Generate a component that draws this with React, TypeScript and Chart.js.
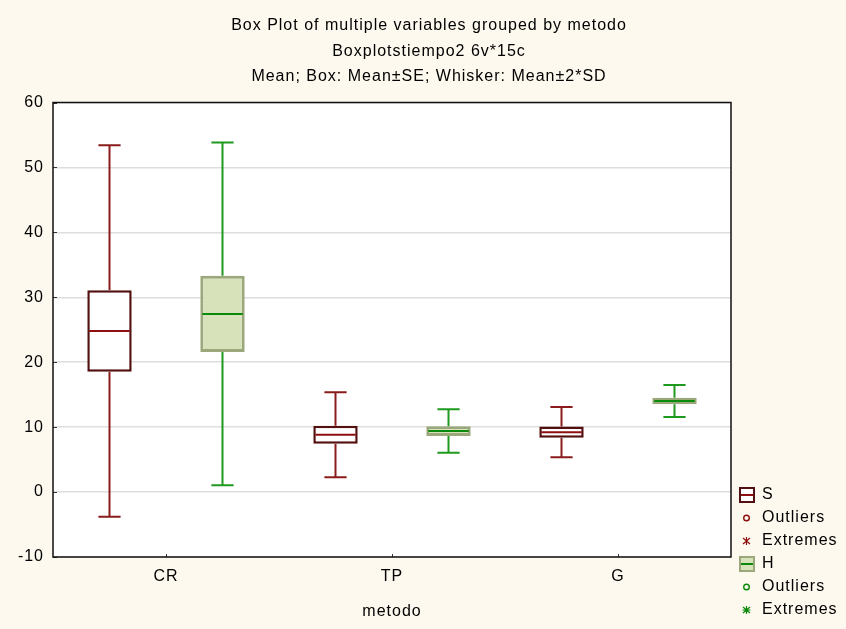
import React, { useEffect, useRef } from 'react';
import { Chart, registerables } from 'chart.js';

Chart.register(...registerables);

// Grouping variable and the two measured variables
const categories = ['CR', 'TP', 'G'];
const seriesNames = ['S', 'H'];

// Per-group statistics: mean, standard error, standard deviation
const meanS = [24.81, 8.82, 9.23];
const seS = [6.27, 1.39, 0.85];
const sdS = [14.3, 3.27, 1.94];

const meanH = [27.44, 9.4, 14.03];
const seH = [5.86, 0.75, 0.51];
const sdH = [13.2, 1.67, 1.23];

const yMin = -10;
const yMax = 60;
const yStep = 10;

const titleLines = [
  'Box Plot of multiple variables grouped by metodo',
  'Boxplotstiempo2 6v*15c',
  'Mean; Box: Mean±SE; Whisker: Mean±2*SD',
];
const xAxisTitle = 'metodo';
const legendLabels = ['S', 'Outliers', 'Extremes', 'H', 'Outliers', 'Extremes'];

const FONT = '"Liberation Sans", Arial, sans-serif';
const FONT_SIZE = 16;
const LETTER_SPACING = '1px';
const TEXT_COLOR = '#000';
const PAGE_BG = '#fdf9ee';

const styles = [
  { fill: '#ffffff', border: '#521010', borderWidth: 2.5, mean: '#8e0f0f', whisker: '#8b1c1c' },
  { fill: '#d7e2bb', border: '#9aa87c', borderWidth: 3, mean: '#0a8a0a', whisker: '#1f9a1f' },
];

const stats = [
  { mean: meanS, se: seS, sd: sdS },
  { mean: meanH, se: seH, sd: sdH },
];

const boxPlotExtras = {
  id: 'boxPlotExtras',
  beforeDraw(chart: any) {
    const { ctx, chartArea: a } = chart;
    ctx.letterSpacing = LETTER_SPACING;
    ctx.save();
    ctx.fillStyle = '#ffffff';
    ctx.fillRect(a.left, a.top, a.right - a.left, a.bottom - a.top);
    ctx.restore();
  },
  afterDatasetsDraw(chart: any) {
    const { ctx } = chart;
    const y = chart.scales.y;
    stats.forEach((st, di) => {
      const meta = chart.getDatasetMeta(di);
      const st2 = styles[di];
      meta.data.forEach((bar: any, i: number) => {
        const { x, width } = bar.getProps(['x', 'width'], true);
        const m = st.mean[i];
        const boxTop = y.getPixelForValue(m + st.se[i]);
        const boxBottom = y.getPixelForValue(m - st.se[i]);
        const wTop = y.getPixelForValue(m + 2 * st.sd[i]);
        const wBottom = y.getPixelForValue(m - 2 * st.sd[i]);
        const capHalf = width / 4;
        ctx.save();
        ctx.strokeStyle = st2.whisker;
        ctx.lineWidth = 2;
        ctx.beginPath();
        ctx.moveTo(x, boxTop);
        ctx.lineTo(x, wTop);
        ctx.moveTo(x - capHalf, wTop);
        ctx.lineTo(x + capHalf, wTop);
        ctx.moveTo(x, boxBottom);
        ctx.lineTo(x, wBottom);
        ctx.moveTo(x - capHalf, wBottom);
        ctx.lineTo(x + capHalf, wBottom);
        ctx.stroke();
        const my = y.getPixelForValue(m);
        ctx.strokeStyle = st2.mean;
        ctx.beginPath();
        ctx.moveTo(x - width / 2 + 2, my);
        ctx.lineTo(x + width / 2 - 2, my);
        ctx.stroke();
        ctx.restore();
      });
    });
  },
  afterDraw(chart: any) {
    const { ctx, chartArea: a } = chart;
    const y = chart.scales.y;
    const x = chart.scales.x;
    ctx.save();
    // inner tick marks
    ctx.strokeStyle = '#333';
    ctx.lineWidth = 1;
    ctx.beginPath();
    for (let v = yMin; v <= yMax; v += yStep) {
      const py = Math.round(y.getPixelForValue(v)) + 0.5;
      ctx.moveTo(a.left, py);
      ctx.lineTo(a.left + 4, py);
    }
    categories.forEach((_, i) => {
      const px = Math.round(x.getPixelForValue(i)) + 0.5;
      ctx.moveTo(px, a.bottom);
      ctx.lineTo(px, a.bottom - 3);
    });
    ctx.stroke();
    // plot frame
    ctx.strokeStyle = '#111';
    ctx.lineWidth = 1.5;
    ctx.strokeRect(a.left, a.top, a.right - a.left, a.bottom - a.top);

    // legend
    const lx = a.right + 8;
    const cx = lx + 7.5;
    const tx = lx + 23;
    const row0 = a.bottom - 62;
    const rowH = 23;
    ctx.font = `${FONT_SIZE}px ${FONT}`;
    ctx.textBaseline = 'middle';
    ctx.textAlign = 'left';
    legendLabels.forEach((label, k) => {
      const ry = row0 + k * rowH;
      const st = styles[k < 3 ? 0 : 1];
      const kind = k % 3;
      if (kind === 0) {
        ctx.fillStyle = st.fill;
        ctx.fillRect(lx, ry - 8, 16, 16);
        ctx.strokeStyle = st.border;
        ctx.lineWidth = 2;
        ctx.strokeRect(lx + 1, ry - 7, 14, 14);
        ctx.strokeStyle = st.mean;
        ctx.beginPath();
        ctx.moveTo(lx + 2, ry);
        ctx.lineTo(lx + 14, ry);
        ctx.stroke();
      } else if (kind === 1) {
        ctx.strokeStyle = st.mean;
        ctx.lineWidth = 1.4;
        ctx.beginPath();
        ctx.arc(cx, ry, 2.8, 0, Math.PI * 2);
        ctx.stroke();
      } else {
        ctx.strokeStyle = st.mean;
        ctx.lineWidth = 1.2;
        ctx.beginPath();
        ctx.moveTo(cx, ry - 4);
        ctx.lineTo(cx, ry + 4);
        ctx.moveTo(cx - 3.5, ry - 3);
        ctx.lineTo(cx + 3.5, ry + 3);
        ctx.moveTo(cx - 3.5, ry + 3);
        ctx.lineTo(cx + 3.5, ry - 3);
        if (k >= 3) {
          ctx.moveTo(cx - 4, ry);
          ctx.lineTo(cx + 4, ry);
        }
        ctx.stroke();
      }
      ctx.fillStyle = TEXT_COLOR;
      ctx.fillText(label, tx, ry);
    });
    ctx.restore();
  },
};

export default function App() {
  const canvasRef = useRef<HTMLCanvasElement | null>(null);

  useEffect(() => {
    const canvas = canvasRef.current;
    if (!canvas) return;
    const datasets = stats.map((st, di) => ({
      label: seriesNames[di],
      data: st.mean.map((m, i) => [m - st.se[i], m + st.se[i]]),
      backgroundColor: styles[di].fill,
      borderColor: styles[di].border,
      borderWidth: styles[di].borderWidth,
      borderSkipped: false,
      categoryPercentage: 1.0,
      barPercentage: 0.393,
    }));
    const font = { family: FONT, size: FONT_SIZE };
    const chart = new Chart(canvas, {
      type: 'bar',
      data: { labels: categories, datasets: datasets as any },
      plugins: [boxPlotExtras],
      options: {
        animation: false,
        responsive: false,
        layout: { padding: { left: 12, right: 0, top: 0, bottom: 0 } },
        plugins: {
          legend: { display: false },
          tooltip: { enabled: false },
          title: {
            display: true,
            text: titleLines,
            color: TEXT_COLOR,
            font: { ...font, weight: 'normal', lineHeight: 25.5 / FONT_SIZE },
            padding: { top: 13, bottom: 13 },
          },
        },
        scales: {
          x: {
            grid: { display: false, drawTicks: false },
            border: { display: false },
            ticks: { color: TEXT_COLOR, font, padding: 10 },
            title: {
              display: true,
              text: xAxisTitle,
              color: TEXT_COLOR,
              font,
              padding: { top: 0, bottom: 8 },
            },
            afterFit: (s: any) => {
              s.height = 72;
            },
          },
          y: {
            min: yMin,
            max: yMax,
            grid: { color: '#dedede', lineWidth: 1.5, drawTicks: false },
            border: { display: false },
            ticks: { stepSize: yStep, color: TEXT_COLOR, font, padding: 9 },
            afterFit: (s: any) => {
              s.width = 41;
            },
          },
          legendArea: {
            type: 'linear',
            position: 'right',
            display: true,
            grid: { display: false, drawTicks: false },
            border: { display: false },
            ticks: { display: false },
            afterFit: (s: any) => {
              s.width = 115;
            },
          },
        },
      } as any,
    });
    return () => chart.destroy();
  }, []);

  return (
    <div
      style={{
        position: 'fixed',
        left: 0,
        top: 0,
        width: 846,
        height: 629,
        background: PAGE_BG,
      }}
    >
      <canvas ref={canvasRef} width={846} height={629} style={{ display: 'block' }} />
    </div>
  );
}
